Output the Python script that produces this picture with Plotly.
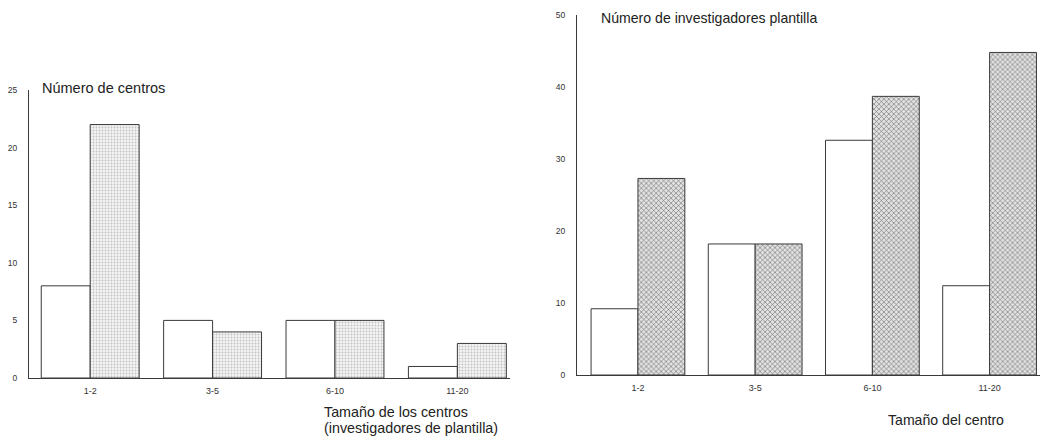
import plotly.graph_objects as go

categories = ["1-2", "3-5", "6-10", "11-20"]
centros_blanco = [8, 5, 5, 1]
centros_trama = [22, 4, 5, 3]
invest_blanco = [9.2, 18.2, 32.6, 12.4]
invest_trama = [27.3, 18.2, 38.7, 44.8]

left_ticks = [0, 5, 10, 15, 20, 25]
right_ticks = [0, 10, 20, 30, 40, 50]

FONT = "Liberation Sans, Arial, sans-serif"
LINE = "#3a3a3a"

fig = go.Figure()
fig.add_trace(go.Bar(x=categories, y=centros_blanco, xaxis="x", yaxis="y",
                     marker=dict(color="white", line=dict(color=LINE, width=1)), showlegend=False))
fig.add_trace(go.Bar(x=categories, y=centros_trama, xaxis="x", yaxis="y",
                     marker=dict(color="white", line=dict(color=LINE, width=1),
                                 pattern=dict(shape=".", size=3, solidity=0.3, fgcolor="#c2c2c2", bgcolor="#f4f4f4")),
                     showlegend=False))
fig.add_trace(go.Bar(x=categories, y=invest_blanco, xaxis="x2", yaxis="y2",
                     marker=dict(color="white", line=dict(color=LINE, width=1)), showlegend=False))
fig.add_trace(go.Bar(x=categories, y=invest_trama, xaxis="x2", yaxis="y2",
                     marker=dict(color="white", line=dict(color=LINE, width=1),
                                 pattern=dict(shape="x", size=3.5, solidity=0.3, fgcolor="#666666", bgcolor="#e2e2e2")),
                     showlegend=False))

W, H = 1042, 437
def fx(px): return px / W
def fy(py): return (H - py) / H

axis_common = dict(showline=True, linecolor=LINE, linewidth=1, showgrid=False, zeroline=False, ticks="",
                   automargin=False)
ytick_font = dict(family=FONT, size=8.5, color="#333")
xtick_font = dict(family=FONT, size=9, color="#333")

fig.update_layout(
    template="none",
    width=W, height=H, margin=dict(l=0, r=0, t=0, b=0, autoexpand=False),
    paper_bgcolor="white", plot_bgcolor="white",
    barmode="group", bargap=0.2, bargroupgap=0,
    font=dict(family=FONT, color="#222"),
    xaxis=dict(domain=[fx(29), fx(510)], anchor="y", range=[-0.5, 3.43], ticklabelstandoff=4,
               tickfont=xtick_font, **axis_common),
    yaxis=dict(domain=[fy(378), fy(90)], anchor="x", range=[0, 25], tickvals=left_ticks,
               ticklabelstandoff=9, tickfont=ytick_font, **axis_common),
    xaxis2=dict(domain=[fx(577), fx(1040)], anchor="y2", range=[-0.52, 3.43], ticklabelstandoff=4,
                tickfont=xtick_font, **axis_common),
    yaxis2=dict(domain=[fy(375), fy(15)], anchor="x2", range=[0, 50], tickvals=right_ticks,
                ticklabelstandoff=9, tickfont=ytick_font, **axis_common),
    annotations=[
        dict(text="Número de centros", x=fx(40), y=fy(88), xref="paper", yref="paper",
             xanchor="left", yanchor="middle", showarrow=False, font=dict(size=14.5, family=FONT)),
        dict(text="Tamaño de los centros", x=fx(322), y=fy(412),
             xref="paper", yref="paper", xanchor="left", yanchor="middle", showarrow=False,
             font=dict(size=14.3, family=FONT)),
        dict(text="(investigadores de plantilla)", x=fx(322), y=fy(428),
             xref="paper", yref="paper", xanchor="left", yanchor="middle", showarrow=False,
             font=dict(size=14.3, family=FONT)),
        dict(text="Número de investigadores plantilla", x=fx(599), y=fy(18), xref="paper", yref="paper",
             xanchor="left", yanchor="middle", showarrow=False, font=dict(size=14.1, family=FONT)),
        dict(text="Tamaño del centro", x=fx(886), y=fy(420), xref="paper", yref="paper",
             xanchor="left", yanchor="middle", showarrow=False, font=dict(size=14.1, family=FONT)),
    ],
)

fig.write_html(
    "out.html",
    config={"displayModeBar": False},
    post_script="document.body.style.margin='0';document.body.style.overflow='hidden';",
)
